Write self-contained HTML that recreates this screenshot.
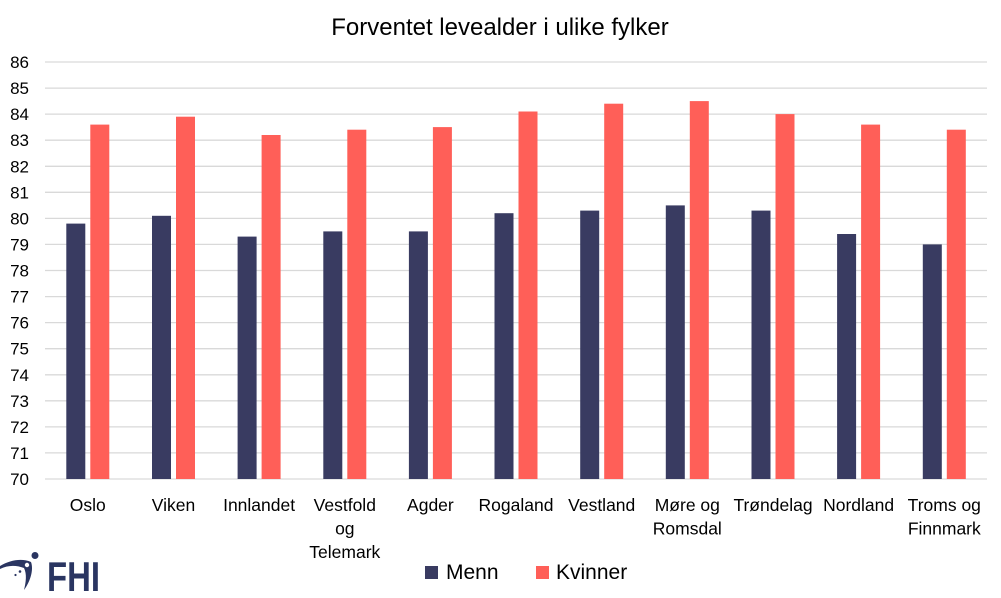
<!DOCTYPE html>
<html>
<head>
<meta charset="utf-8">
<style>
html,body{margin:0;padding:0;background:#fff;}
svg{display:block;}
text{font-family:"Liberation Sans",sans-serif;fill:#000;}
</style>
</head>
<body>
<svg width="1001" height="598" viewBox="0 0 1001 598" xmlns="http://www.w3.org/2000/svg">
<rect width="1001" height="598" fill="#fff"/>
<text x="500" y="35" font-size="24" text-anchor="middle">Forventet levealder i ulike fylker</text>
<g stroke="#d9d9d9" stroke-width="1.3">
<line x1="45" x2="987" y1="62.0" y2="62.0"/>
<line x1="45" x2="987" y1="88.1" y2="88.1"/>
<line x1="45" x2="987" y1="114.1" y2="114.1"/>
<line x1="45" x2="987" y1="140.2" y2="140.2"/>
<line x1="45" x2="987" y1="166.3" y2="166.3"/>
<line x1="45" x2="987" y1="192.3" y2="192.3"/>
<line x1="45" x2="987" y1="218.4" y2="218.4"/>
<line x1="45" x2="987" y1="244.4" y2="244.4"/>
<line x1="45" x2="987" y1="270.5" y2="270.5"/>
<line x1="45" x2="987" y1="296.6" y2="296.6"/>
<line x1="45" x2="987" y1="322.6" y2="322.6"/>
<line x1="45" x2="987" y1="348.7" y2="348.7"/>
<line x1="45" x2="987" y1="374.8" y2="374.8"/>
<line x1="45" x2="987" y1="400.8" y2="400.8"/>
<line x1="45" x2="987" y1="426.9" y2="426.9"/>
<line x1="45" x2="987" y1="452.9" y2="452.9"/>
<line x1="45" x2="987" y1="479.0" y2="479.0"/>
</g>
<g font-size="17" text-anchor="end">
<text x="29" y="68.0">86</text>
<text x="29" y="94.1">85</text>
<text x="29" y="120.1">84</text>
<text x="29" y="146.2">83</text>
<text x="29" y="172.3">82</text>
<text x="29" y="198.3">81</text>
<text x="29" y="224.4">80</text>
<text x="29" y="250.4">79</text>
<text x="29" y="276.5">78</text>
<text x="29" y="302.6">77</text>
<text x="29" y="328.6">76</text>
<text x="29" y="354.7">75</text>
<text x="29" y="380.8">74</text>
<text x="29" y="406.8">73</text>
<text x="29" y="432.9">72</text>
<text x="29" y="458.9">71</text>
<text x="29" y="485.0">70</text>
</g>
<g fill="#393b61">
<rect x="66.3" y="223.6" width="19" height="255.4"/>
<rect x="152.0" y="215.8" width="19" height="263.2"/>
<rect x="237.6" y="236.6" width="19" height="242.4"/>
<rect x="323.3" y="231.4" width="19" height="247.6"/>
<rect x="408.9" y="231.4" width="19" height="247.6"/>
<rect x="494.5" y="213.2" width="19" height="265.8"/>
<rect x="580.2" y="210.6" width="19" height="268.4"/>
<rect x="665.8" y="205.4" width="19" height="273.6"/>
<rect x="751.5" y="210.6" width="19" height="268.4"/>
<rect x="837.1" y="234.0" width="19" height="245.0"/>
<rect x="922.8" y="244.4" width="19" height="234.6"/>
</g>
<g fill="#ff5f58">
<rect x="90.3" y="124.6" width="19" height="354.4"/>
<rect x="176.0" y="116.7" width="19" height="362.3"/>
<rect x="261.6" y="135.0" width="19" height="344.0"/>
<rect x="347.3" y="129.7" width="19" height="349.3"/>
<rect x="432.9" y="127.1" width="19" height="351.9"/>
<rect x="518.5" y="111.5" width="19" height="367.5"/>
<rect x="604.2" y="103.7" width="19" height="375.3"/>
<rect x="689.8" y="101.1" width="19" height="377.9"/>
<rect x="775.5" y="114.1" width="19" height="364.9"/>
<rect x="861.1" y="124.6" width="19" height="354.4"/>
<rect x="946.8" y="129.7" width="19" height="349.3"/>
</g>
<g font-size="17.5" text-anchor="middle">
<text x="87.8" y="511">Oslo</text>
<text x="173.5" y="511">Viken</text>
<text x="259.1" y="511">Innlandet</text>
<text x="344.8" y="511">Vestfold</text>
<text x="344.8" y="534.5">og</text>
<text x="344.8" y="558">Telemark</text>
<text x="430.4" y="511">Agder</text>
<text x="516.0" y="511">Rogaland</text>
<text x="601.7" y="511">Vestland</text>
<text x="687.3" y="511">Møre og</text>
<text x="687.3" y="534.5">Romsdal</text>
<text x="773.0" y="511">Trøndelag</text>
<text x="858.6" y="511">Nordland</text>
<text x="944.3" y="511">Troms og</text>
<text x="944.3" y="534.5">Finnmark</text>
</g>
<rect x="425" y="566" width="13" height="13" fill="#393b61"/>
<text x="446" y="579" font-size="21">Menn</text>
<rect x="536" y="566" width="13" height="13" fill="#ff5f58"/>
<text x="556" y="579" font-size="21">Kvinner</text>
<g fill="#2a3561">
<path d="M0,566 C10,560 22,558 31,562 C34,570 30,582 24,590 C26,582 27,574 24,568 C16,565 8,565 0,569 Z"/>
<circle cx="35" cy="555.5" r="3.5"/>
<circle cx="20" cy="571.5" r="1.3"/>
<circle cx="15.5" cy="575" r="1.1"/>
<text x="47" y="591" font-size="42" font-weight="bold" textLength="53" lengthAdjust="spacingAndGlyphs" style="fill:#2a3561">FHI</text>
</g>
<circle cx="27" cy="565" r="2.2" fill="#fff"/>
</svg>
</body>
</html>
